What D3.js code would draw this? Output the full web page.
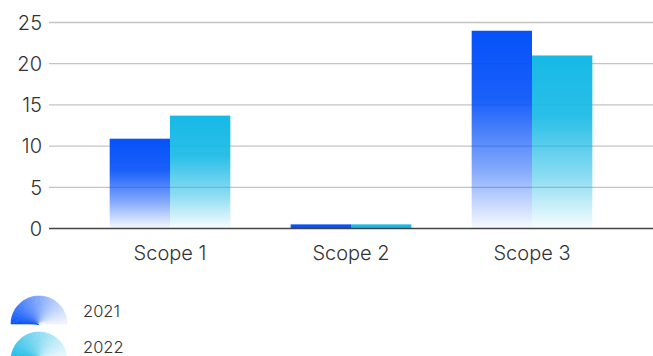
<!DOCTYPE html>
<html>
<head>
<meta charset="utf-8">
<script src="https://cdn.jsdelivr.net/npm/d3@7"></script>
<style>
  html, body { margin: 0; padding: 0; background: #fff; overflow: hidden; }
  svg { display: block; font-family: Inter, "Liberation Sans", sans-serif; }
</style>
</head>
<body>
<div id="chart"></div>
<script>
// ── Data ──────────────────────────────────────────────────────────────────────
const categories = ['Scope 1', 'Scope 2', 'Scope 3'];
const years      = ['2021', '2022'];
const values2021 = [10.9, 0.5, 24.0];
const values2022 = [13.7, 0.5, 21.0];
const yTicks     = [0, 5, 10, 15, 20, 25];
const colors     = { '2021': '#0652f9', '2022': '#17b9e6' };

// ── Layout ────────────────────────────────────────────────────────────────────
const W = 653, H = 356;
const gridLeft = 49, gridRight = 653;
const y0 = 228.5, yTop = 22.5;

const svg = d3.select('#chart').append('svg')
  .attr('width', W).attr('height', H);

const defs = svg.append('defs');
years.forEach(yr => {
  const g = defs.append('linearGradient')
    .attr('id', 'grad' + yr)
    .attr('x1', 0).attr('y1', 0).attr('x2', 0).attr('y2', 1);
  [[0, 1], [0.35, 0.92], [0.7, 0.5], [1, 0.03]].forEach(([o, a]) => {
    g.append('stop').attr('offset', o)
      .attr('stop-color', colors[yr]).attr('stop-opacity', a);
  });
});

const x = d3.scaleBand().domain(categories).range([79.5, 622.5]).paddingInner(0).paddingOuter(0);
const xInner = d3.scaleBand().domain(years).range([0, x.bandwidth()]).paddingInner(0).paddingOuter(0.5);
const y = d3.scaleLinear().domain([0, 25]).range([y0, yTop]);

// ── Grid + y labels ───────────────────────────────────────────────────────────
svg.append('g').selectAll('line')
  .data(yTicks.filter(d => d > 0))
  .enter().append('line')
  .attr('x1', gridLeft).attr('x2', gridRight)
  .attr('y1', d => y(d)).attr('y2', d => y(d))
  .attr('stroke', '#c4c4c4').attr('stroke-width', 1.3);

svg.append('g').selectAll('text')
  .data(yTicks)
  .enter().append('text')
  .attr('x', 42).attr('y', d => y(d))
  .attr('dy', '0.36em')
  .attr('text-anchor', 'end')
  .attr('font-size', 20)
  .attr('font-weight', 300)
  .attr('fill', '#333')
  .text(d => d);

// ── Bars ──────────────────────────────────────────────────────────────────────
const rows = categories.map((c, i) => ({ cat: c, vals: { '2021': values2021[i], '2022': values2022[i] } }));

const groups = svg.append('g').selectAll('g')
  .data(rows).enter().append('g')
  .attr('transform', d => `translate(${x(d.cat)},0)`);

groups.selectAll('rect')
  .data(d => years.map(yr => ({ yr, v: d.vals[yr] })))
  .enter().append('rect')
  .attr('x', d => xInner(d.yr))
  .attr('width', xInner.bandwidth())
  .attr('y', d => y(d.v))
  .attr('height', d => y0 - y(d.v))
  .attr('fill', d => (y0 - y(d.v)) < 8 ? colors[d.yr] : `url(#grad${d.yr})`);

// baseline
svg.append('line')
  .attr('x1', gridLeft).attr('x2', gridRight)
  .attr('y1', y0).attr('y2', y0)
  .attr('stroke', '#444').attr('stroke-width', 1.3);

// x labels
svg.append('g').selectAll('text')
  .data(categories).enter().append('text')
  .attr('x', d => x(d) + x.bandwidth() / 2)
  .attr('y', 253)
  .attr('dy', '0.36em')
  .attr('text-anchor', 'middle')
  .attr('font-size', 20)
  .attr('font-weight', 300)
  .attr('fill', '#333')
  .text(d => d);

// ── Legend ────────────────────────────────────────────────────────────────────
const arc = d3.arc().innerRadius(0).outerRadius(28);
const nSlices = 60;
years.forEach((yr, i) => {
  const cy = 324 + i * 36;
  const lg = svg.append('g').attr('transform', `translate(39,${cy})`);
  const interp = d3.interpolateRgb(colors[yr], '#ffffff');
  d3.range(nSlices).forEach(k => {
    const a0 = -Math.PI / 2 + k * Math.PI / nSlices;
    const a1 = Math.min(a0 + Math.PI / nSlices, Math.PI / 2);
    const c = interp(Math.pow(k / nSlices, 0.9) * 0.95);
    lg.append('path')
      .attr('d', arc({ startAngle: a0, endAngle: a1 }))
      .attr('fill', c)
      .attr('stroke', c)
      .attr('stroke-width', 0.6);
  });
  svg.append('text')
    .attr('x', 83).attr('y', cy - 13)
    .attr('dy', '0.36em')
    .attr('font-size', 16.5)
    .attr('font-weight', 300)
    .attr('fill', '#333')
    .text(yr);
});
</script>
</body>
</html>
